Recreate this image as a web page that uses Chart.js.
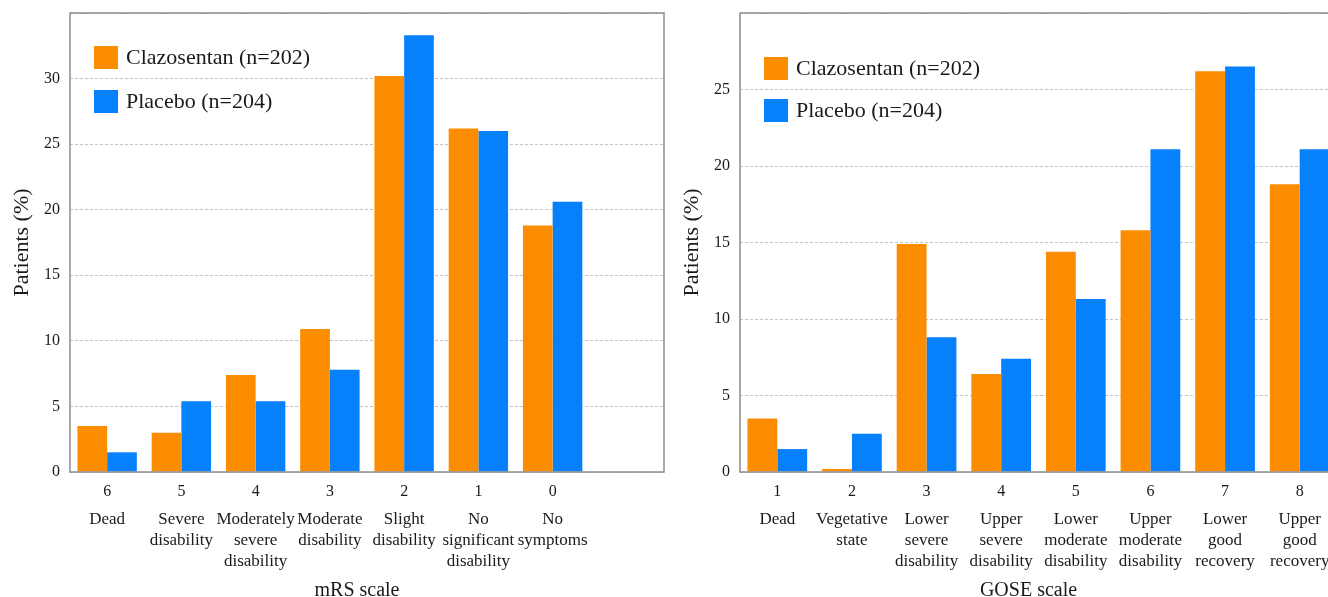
<!DOCTYPE html>
<html>
<head>
<meta charset="utf-8">
<script src="https://cdn.jsdelivr.net/npm/chart.js@4/dist/chart.umd.min.js"></script>
<style>
  html, body { margin: 0; padding: 0; background: #fff; overflow: hidden; width: 1328px; height: 597px; }
  #left { position: absolute; left: 0; top: 0; }
  #right { position: absolute; left: 670px; top: 0; }
</style>
</head>
<body>
<canvas id="left" width="670" height="597"></canvas>
<canvas id="right" width="673" height="597"></canvas>
<script>
// mRS (left panel)
const mrsScores = ['6', '5', '4', '3', '2', '1', '0', ''];
const mrsNames = [['Dead'], ['Severe', 'disability'], ['Moderately', 'severe', 'disability'], ['Moderate', 'disability'],
  ['Slight', 'disability'], ['No', 'significant', 'disability'], ['No', 'symptoms'], ''];
const mrsClazosentan = [3.5, 3.0, 7.4, 10.9, 30.2, 26.2, 18.8, null];
const mrsPlacebo = [1.5, 5.4, 5.4, 7.8, 33.3, 26.0, 20.6, null];

// GOSE (right panel)
const goseScores = ['1', '2', '3', '4', '5', '6', '7', '8'];
const goseNames = [['Dead'], ['Vegetative', 'state'], ['Lower', 'severe', 'disability'], ['Upper', 'severe', 'disability'],
  ['Lower', 'moderate', 'disability'], ['Upper', 'moderate', 'disability'], ['Lower', 'good', 'recovery'], ['Upper', 'good', 'recovery']];
const goseClazosentan = [3.5, 0.2, 14.9, 6.4, 14.4, 15.8, 26.2, 18.8];
const gosePlacebo = [1.5, 2.5, 8.8, 7.4, 11.3, 21.1, 26.5, 21.1];

const seriesLabels = ['Clazosentan (n=202)', 'Placebo (n=204)'];
const ORANGE = '#fd8d00';
const BLUE = '#0780fc';
const SERIF = '"Liberation Serif", "Times New Roman", serif';

// frame around the plot area
const plotFrame = {
  id: 'plotFrame',
  afterDatasetsDraw(chart) {
    const a = chart.chartArea, ctx = chart.ctx;
    ctx.save();
    ctx.strokeStyle = '#8c8c8c';
    ctx.lineWidth = 1.5;
    ctx.strokeRect(a.left, a.top, a.right - a.left, a.bottom - a.top);
    ctx.restore();
  }
};

// legend drawn inside the plot, top left
const insideLegend = {
  id: 'insideLegend',
  afterDraw(chart, args, opts) {
    const a = chart.chartArea, ctx = chart.ctx;
    ctx.save();
    ctx.font = '22px ' + SERIF;
    ctx.textBaseline = 'middle';
    chart.data.datasets.forEach((ds, i) => {
      const y = a.top + opts.top + i * opts.gap;
      ctx.fillStyle = ds.backgroundColor;
      ctx.fillRect(a.left + 24, y - 11, 24, 23);
      ctx.fillStyle = '#1a1a1a';
      ctx.fillText(ds.label, a.left + 56, y + 1);
    });
    ctx.restore();
  }
};

function createPanel(el, scores, names, clazo, placebo, yMax, xTitle, legendTop, legendGap) {
  return new Chart(el, {
    type: 'bar',
    data: {
      labels: scores,
      datasets: [
        { label: seriesLabels[0], data: clazo, backgroundColor: ORANGE },
        { label: seriesLabels[1], data: placebo, backgroundColor: BLUE }
      ]
    },
    options: {
      responsive: false,
      animation: false,
      devicePixelRatio: 1,
      layout: { padding: { top: 13, right: 6, left: 0, bottom: 0 } },
      datasets: { bar: { categoryPercentage: 0.8, barPercentage: 1.0 } },
      plugins: {
        legend: { display: false },
        tooltip: { enabled: false },
        insideLegend: { top: legendTop, gap: legendGap }
      },
      scales: {
        x: {
          type: 'category',
          position: 'bottom',
          grid: { display: false, drawTicks: false },
          border: { display: false },
          ticks: { color: '#1a1a1a', font: { family: SERIF, size: 16 }, padding: 10, maxRotation: 0, autoSkip: false },
          afterFit(scale) { scale.height = 28; }
        },
        x2: {
          type: 'category',
          position: 'bottom',
          labels: names,
          offset: true,
          grid: { display: false, drawTicks: false },
          border: { display: false },
          ticks: { color: '#1a1a1a', font: { family: SERIF, size: 17, lineHeight: 1.24 }, padding: 9, maxRotation: 0, autoSkip: false },
          title: { display: true, text: xTitle + '\u0020\u0020\u0020\u0020', color: '#1a1a1a', font: { family: SERIF, size: 20 }, padding: { top: 0, bottom: -6 } },
          afterFit(scale) { scale.height = 97; }
        },
        y: {
          min: 0,
          max: yMax,
          grid: { color: '#c4c4c4', lineWidth: 1, drawTicks: false },
          border: { display: false, dash: [3, 2] },
          ticks: {
            stepSize: 5,
            color: '#1a1a1a',
            font: { family: SERIF, size: 16 },
            padding: 10,
            callback: (v) => (v === yMax ? '' : v)
          },
          title: { display: true, text: 'Patients (%)', color: '#1a1a1a', font: { family: SERIF, size: 22 }, padding: { top: 9, bottom: 4 } },
          afterFit(scale) {
            scale.width = 70;
            scale.paddingTop = 0;
            scale.paddingBottom = 0;
          }
        }
      }
    },
    plugins: [plotFrame, insideLegend]
  });
}

createPanel(document.getElementById('left'), mrsScores, mrsNames, mrsClazosentan, mrsPlacebo, 35, 'mRS scale', 44, 44);
createPanel(document.getElementById('right'), goseScores, goseNames, goseClazosentan, gosePlacebo, 30, 'GOSE scale', 55, 42);
</script>
</body>
</html>
